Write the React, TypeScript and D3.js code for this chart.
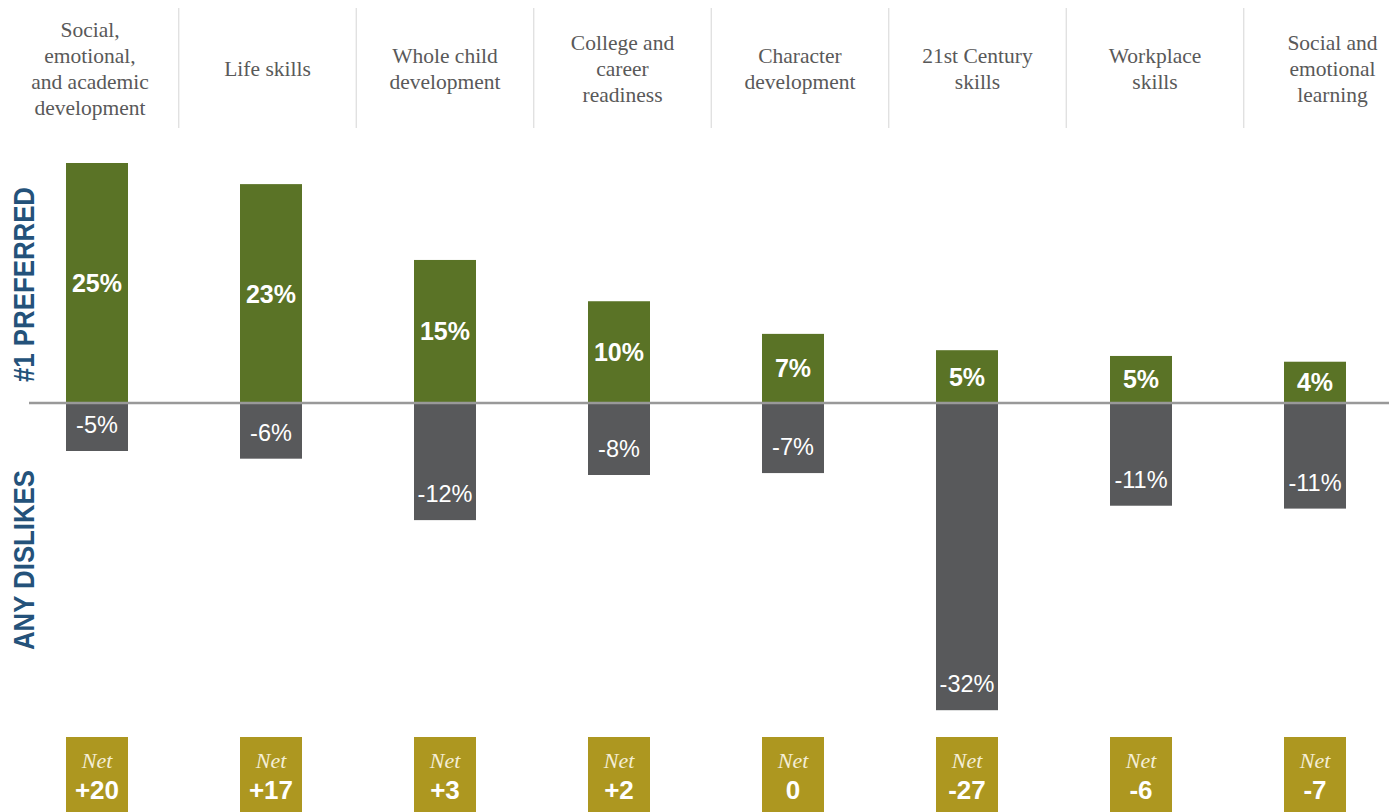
import React from "react";
import * as d3 from "d3";

const categories: string[][] = [
  ["Social,", "emotional,", "and academic", "development"],
  ["Life skills"],
  ["Whole child", "development"],
  ["College and", "career", "readiness"],
  ["Character", "development"],
  ["21st Century", "skills"],
  ["Workplace", "skills"],
  ["Social and", "emotional", "learning"],
];
const preferred = [25.0, 22.8, 14.9, 10.6, 7.2, 5.5, 4.9, 4.3];
const preferredLabels = ["25%", "23%", "15%", "10%", "7%", "5%", "5%", "4%"];
const dislikes = [-5.0, -5.8, -12.2, -7.5, -7.3, -32.0, -10.7, -11.0];
const dislikeLabels = ["-5%", "-6%", "-12%", "-8%", "-7%", "-32%", "-11%", "-11%"];
const netLabels = ["+20", "+17", "+3", "+2", "0", "-27", "-6", "-7"];

const W = 1389;
const H = 812;
const GREEN = "#5a7326";
const GRAY = "#58595b";
const GOLD = "#ad9720";
const BLUE = "#24527a";

export default function App() {
  const idx = categories.map((_, i) => String(i));
  const xBar = d3.scalePoint<string>().domain(idx).range([97, 1315]);
  const xHead = d3.scalePoint<string>().domain(idx).range([90, 1332.5]);
  const y = d3.scaleLinear().domain([-32, 25]).range([710.2, 163]);
  const barW = 62;
  const y0 = y(0);
  const step = 177.5;

  return (
    <svg
      width={W}
      height={H}
      style={{ position: "absolute", left: 0, top: 0, display: "block" }}
    >
      <rect x={0} y={0} width={W} height={H} fill="#fff" />
      {/* header */}
      {idx.map((k, i) => {
        const cx = xHead(k)!;
        const lines = categories[i];
        const lh = 26;
        const startY = 69 - ((lines.length - 1) * lh) / 2;
        return (
          <g key={"h" + i}>
            {i > 0 && (
              <line
                x1={cx - step / 2}
                x2={cx - step / 2}
                y1={8}
                y2={128}
                stroke="#dcdcdc"
                strokeWidth={1.2}
              />
            )}
            {lines.map((ln, j) => (
              <text
                key={j}
                x={cx}
                y={startY + j * lh}
                textAnchor="middle"
                dominantBaseline="central"
                fontFamily="'Liberation Serif', serif"
                fontSize={21.5}
                fill="#595959"
              >
                {ln}
              </text>
            ))}
          </g>
        );
      })}

      {/* axis labels */}
      <text
        transform={`translate(34,284.5) rotate(-90)`}
        textAnchor="middle"
        fontFamily="'Liberation Sans', Arial, sans-serif"
        fontWeight="bold"
        fontSize={29}
        fill={BLUE}
        textLength={195}
        lengthAdjust="spacingAndGlyphs"
      >
        #1 PREFERRED
      </text>
      <text
        transform={`translate(34,560) rotate(-90)`}
        textAnchor="middle"
        fontFamily="'Liberation Sans', Arial, sans-serif"
        fontWeight="bold"
        fontSize={29}
        fill={BLUE}
        textLength={180}
        lengthAdjust="spacingAndGlyphs"
      >
        ANY DISLIKES
      </text>

      {/* bars */}
      {idx.map((k, i) => {
        const cx = xBar(k)!;
        const top = y(preferred[i]);
        const bot = y(dislikes[i]);
        return (
          <g key={"b" + i}>
            <rect x={cx - barW / 2} y={top} width={barW} height={y0 - top} fill={GREEN} />
            <rect x={cx - barW / 2} y={y0} width={barW} height={bot - y0} fill={GRAY} />
            <text
              x={cx}
              y={(top + y0) / 2}
              textAnchor="middle"
              dominantBaseline="central"
              fontFamily="'Liberation Sans', Arial, sans-serif"
              fontWeight="bold"
              fontSize={25}
              fill="#fff"
            >
              {preferredLabels[i]}
            </text>
            <text
              x={cx}
              y={bot - 26}
              textAnchor="middle"
              dominantBaseline="central"
              fontFamily="'Liberation Sans', Arial, sans-serif"
              fontSize={23.5}
              fill="#fff"
            >
              {dislikeLabels[i]}
            </text>
            <rect x={cx - barW / 2} y={737} width={barW} height={80} fill={GOLD} />
            <text
              x={cx}
              y={760}
              textAnchor="middle"
              dominantBaseline="central"
              fontFamily="'Liberation Serif', serif"
              fontStyle="italic"
              fontSize={22}
              fill="#f4eed6"
            >
              Net
            </text>
            <text
              x={cx}
              y={790}
              textAnchor="middle"
              dominantBaseline="central"
              fontFamily="'Liberation Sans', Arial, sans-serif"
              fontWeight="bold"
              fontSize={26}
              fill="#fff"
            >
              {netLabels[i]}
            </text>
          </g>
        );
      })}

      {/* zero line */}
      <line x1={29} x2={W} y1={y0} y2={y0} stroke="#999" strokeWidth={2.5} />
    </svg>
  );
}
